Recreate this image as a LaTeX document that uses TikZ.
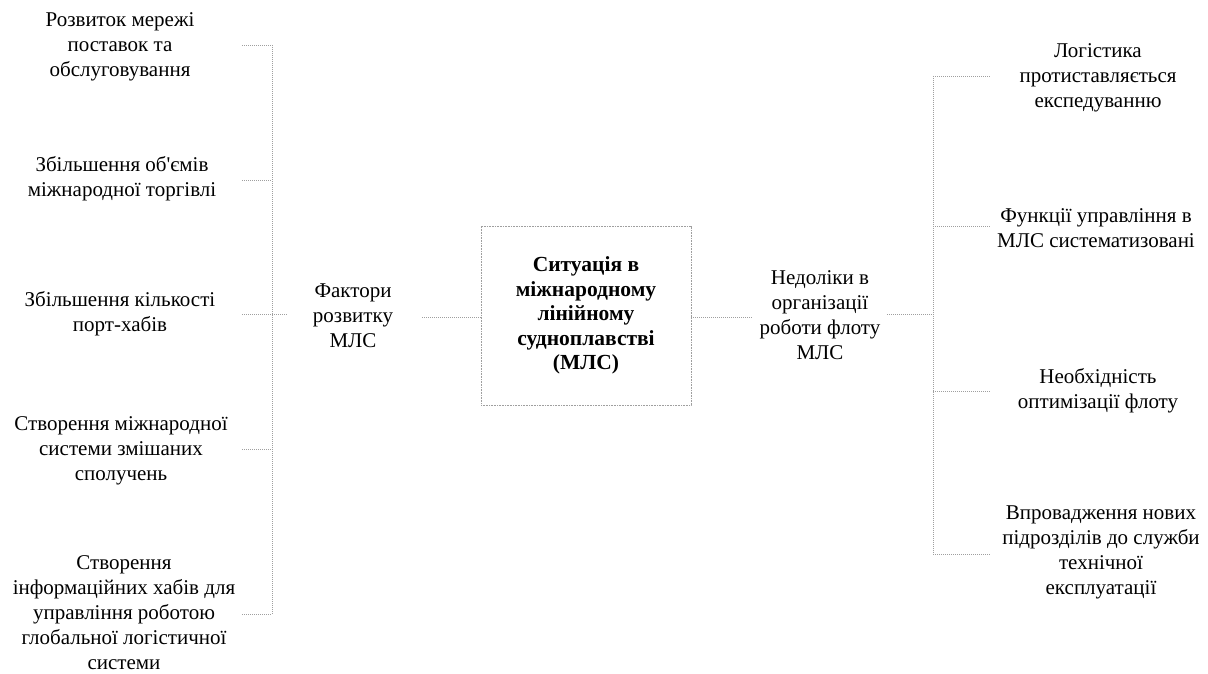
\documentclass[tikz,border=0pt]{standalone}
\usepackage{fontspec}
\setmainfont{Liberation Serif}[Ligatures=TeXOff]
\begin{document}
\begin{tikzpicture}[x=1pt,y=-1pt,
  conn/.style={draw=gray!75, line width=0.9pt, dash pattern=on 1pt off 1pt},
  txt/.style={align=center, font=\fontsize{21}{25}\selectfont, inner sep=0pt},
  centerbox/.style={draw=gray!75, line width=0.9pt, dash pattern=on 1pt off 0.6pt,
    minimum width=210pt, minimum height=179pt, align=center, inner sep=0pt,
    font=\fontsize{21.5}{24.5}\selectfont\bfseries}]
\useasboundingbox (0,0) rectangle (1208,674);
% central nodes
\node[centerbox] (c) at (586,315.5) {Ситуація в\\міжнародному\\лінійному\\судноплавстві\\(МЛС)};
\node[txt] (f) at (353,316) {Фактори\\розвитку\\МЛС};
\node[txt] (n) at (820,315) {Недоліки в\\організації\\роботи флоту\\МЛС};
% left items
\node[txt] (l1) at (120,47) {Розвиток мережі\\поставок та\\обслуговування};
\node[txt] (l2) at (122,179) {Збільшення об'ємів\\міжнародної торгівлі};
\node[txt] (l3) at (120,314) {Збільшення кількості\\порт-хабів};
\node[txt] (l4) at (121,451) {Створення міжнародної\\системи змішаних\\сполучень};
\node[txt] (l5) at (124,613) {Створення\\інформаційних хабів для\\управління роботою\\глобальної логістичної\\системи};
% right items
\node[txt] (r1) at (1098,78) {Логістика\\протиставляється\\експедуванню};
\node[txt] (r2) at (1096,228) {Функції управління в\\МЛС систематизовані};
\node[txt] (r3) at (1098,391) {Необхідність\\оптимізації флоту};
\node[txt] (r4) at (1101,552) {Впровадження нових\\підрозділів до служби\\технічної\\експлуатації};
% left bracket coordinates
\coordinate (la1) at (242,45);  \coordinate (lb1) at (272,45);
\coordinate (la2) at (242,180); \coordinate (lb2) at (272,180);
\coordinate (la3) at (242,314); \coordinate (lb3) at (272,314);
\coordinate (la4) at (242,449); \coordinate (lb4) at (272,449);
\coordinate (la5) at (242,614); \coordinate (lb5) at (272,614);
\coordinate (lm) at (287,314);
\coordinate (fo) at (422,317);
\draw[conn] (lb1) -- (lb5);
\draw[conn] (la1) -- (lb1);
\draw[conn] (la2) -- (lb2);
\draw[conn] (la3) -- (lm);
\draw[conn] (la4) -- (lb4);
\draw[conn] (la5) -- (lb5);
\draw[conn] (fo) -- (c.west |- fo);
% right side
\coordinate (ni) at (752,317);
\coordinate (no) at (887,314);
\coordinate (rm) at (933,314);
\coordinate (ra1) at (933,76);  \coordinate (rb1) at (990,76);
\coordinate (ra2) at (933,226); \coordinate (rb2) at (990,226);
\coordinate (ra3) at (933,391); \coordinate (rb3) at (990,391);
\coordinate (ra4) at (933,554); \coordinate (rb4) at (990,554);
\draw[conn] (c.east |- ni) -- (ni);
\draw[conn] (no) -- (rm);
\draw[conn] (ra1) -- (ra4);
\draw[conn] (ra1) -- (rb1);
\draw[conn] (ra2) -- (rb2);
\draw[conn] (ra3) -- (rb3);
\draw[conn] (ra4) -- (rb4);
\end{tikzpicture}
\end{document}
